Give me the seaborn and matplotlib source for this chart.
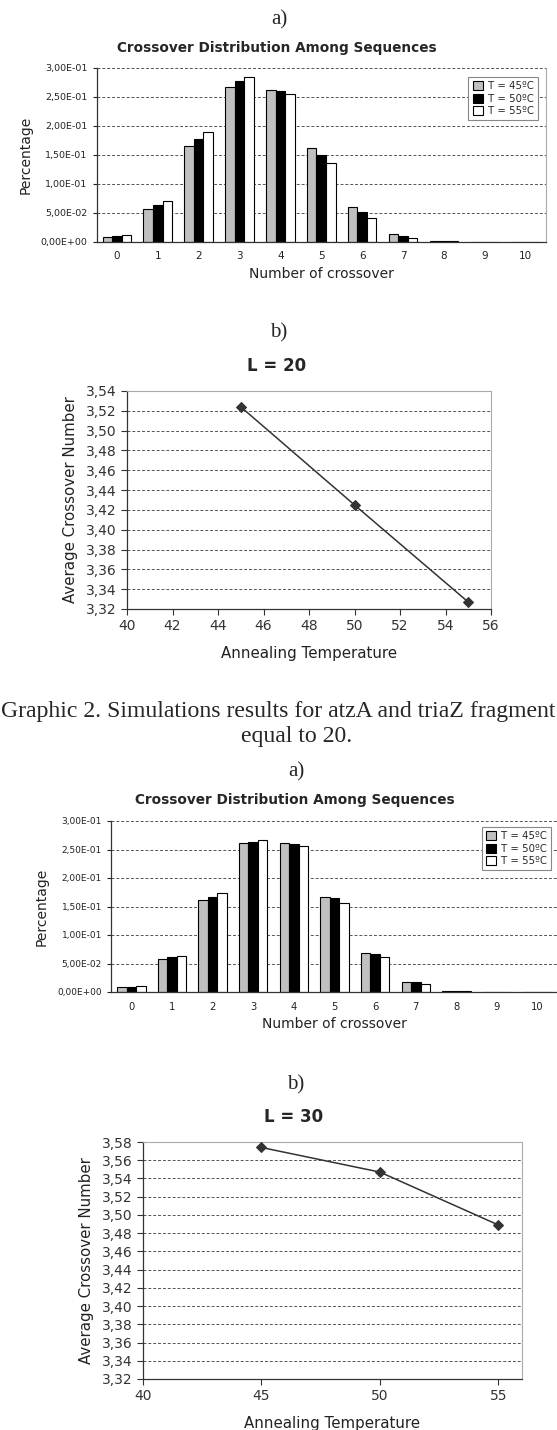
import numpy as np
import pandas as pd
import matplotlib
matplotlib.use("Agg")
import matplotlib.pyplot as plt
from matplotlib.ticker import FuncFormatter, FixedLocator
import seaborn as sns

# ---------------- data ----------------
crossovers = ["0", "1", "2", "3", "4", "5", "6", "7", "8", "9", "10"]
temp_labels = ["T = 45ºC", "T = 50ºC", "T = 55ºC"]

l20_t45 = [0.0081, 0.0569, 0.1654, 0.2669, 0.2617, 0.1619, 0.0603, 0.0122, 0.0010, 0.0, 0.0]
l20_t50 = [0.0093, 0.0632, 0.1776, 0.2768, 0.2600, 0.1491, 0.0516, 0.0099, 0.0008, 0.0, 0.0]
l20_t55 = [0.0104, 0.0696, 0.1886, 0.2849, 0.2553, 0.1364, 0.0412, 0.0064, 0.0005, 0.0, 0.0]

l30_t45 = [0.0095, 0.0583, 0.1619, 0.2610, 0.2610, 0.1666, 0.0682, 0.0169, 0.0012, 0.0, 0.0]
l30_t50 = [0.0095, 0.0606, 0.1660, 0.2633, 0.2598, 0.1643, 0.0664, 0.0169, 0.0017, 0.0, 0.0]
l30_t55 = [0.0100, 0.0629, 0.1736, 0.2674, 0.2569, 0.1567, 0.0612, 0.0146, 0.0010, 0.0, 0.0]

anneal_temps = [45, 50, 55]
avg_l20 = [3.524, 3.425, 3.327]
avg_l30 = [3.574, 3.547, 3.489]

bar_yticks = [0.0, 0.05, 0.10, 0.15, 0.20, 0.25, 0.30]
l20_xticks = [40, 42, 44, 46, 48, 50, 52, 54, 56]
l20_yticks = [3.32, 3.34, 3.36, 3.38, 3.40, 3.42, 3.44, 3.46, 3.48, 3.50, 3.52, 3.54]
l30_xticks = [40, 45, 50, 55]
l30_yticks = [3.32, 3.34, 3.36, 3.38, 3.40, 3.42, 3.44, 3.46, 3.48, 3.50, 3.52, 3.54, 3.56, 3.58]

# ---------------- style ----------------
sns.set_theme(style="white")
plt.rcParams["font.family"] = ["DejaVu Sans"]

W, H = 557, 1430
fig = plt.figure(figsize=(W / 100, H / 100), dpi=100)


def rect(left, right, top, bottom):
    return [left / W, 1 - bottom / H, (right - left) / W, (bottom - top) / H]


def ftext(x, y, s, **kw):
    fig.text(x / W, 1 - y / H, s, ha="center", va="center", **kw)


SERIF = ["Liberation Serif", "DejaVu Serif"]
bar_palette = ["#c0c0c0", "#000000", "#ffffff"]
grid_kw = dict(color="#555555", linestyle=(0, (3, 2)), linewidth=0.7)


def bar_chart(ax, v45, v50, v55, legend_anchor, legend_loc, tick_fs):
    df = pd.DataFrame({
        "cat": crossovers * 3,
        "T": [temp_labels[0]] * 11 + [temp_labels[1]] * 11 + [temp_labels[2]] * 11,
        "val": list(v45) + list(v50) + list(v55),
    })
    sns.barplot(data=df, x="cat", y="val", hue="T", order=crossovers,
                hue_order=temp_labels, palette=bar_palette, edgecolor="black",
                linewidth=0.8, width=0.7, ax=ax, legend=True)
    ax.set_xlim(-0.5, 10.5)
    ax.set_ylim(0, 0.30)
    ax.yaxis.set_major_locator(FixedLocator(bar_yticks))
    ax.yaxis.set_major_formatter(FuncFormatter(lambda v, p: f"{v:.2E}".replace(".", ",")))
    ax.set_axisbelow(True)
    for yv in bar_yticks[1:]:
        ax.axhline(yv, zorder=0, **grid_kw)
    ax.set_xticks(range(11))
    ax.set_xticklabels(crossovers)
    ax.set_xticks(np.arange(-0.5, 11, 1.0), minor=True)
    ax.tick_params(axis="x", which="major", length=0, labelsize=tick_fs + 0.7, pad=7, colors="#222222")
    ax.tick_params(axis="x", which="minor", length=4, width=0.8, direction="out", color="#333333")
    ax.tick_params(axis="y", which="major", length=3, width=0.8, direction="out", labelsize=tick_fs,
                   colors="#222222", left=True)
    ax.set_xlabel("Number of crossover", fontsize=10, color="#222222", labelpad=4)
    ax.set_ylabel("Percentage", fontsize=10, color="#222222", labelpad=6)
    for s in ["left", "bottom"]:
        ax.spines[s].set_color("#333333")
        ax.spines[s].set_linewidth(0.9)
    ax.spines["top"].set_visible(False)
    ax.spines["right"].set_color("#aaaaaa")
    ax.spines["right"].set_linewidth(0.8)
    handles, labels = ax.get_legend_handles_labels()
    leg = ax.legend(handles, labels, loc=legend_loc, bbox_to_anchor=legend_anchor,
                    fontsize=7.3, frameon=True, fancybox=False, handlelength=1.0,
                    handleheight=1.0, handletextpad=0.5, borderpad=0.4,
                    labelspacing=0.25, edgecolor="#888888", framealpha=1)
    leg.get_frame().set_linewidth(0.8)


def line_chart(ax, xs, ys, xticks, yticks, xlim, ylim):
    ax.set_xlim(*xlim)
    ax.set_ylim(*ylim)
    for yv in yticks[1:]:
        ax.axhline(yv, zorder=0, **grid_kw)
    sns.lineplot(x=xs, y=ys, ax=ax, color="#333333", linewidth=1.1,
                 marker="D", markersize=5, markeredgecolor="#333333", zorder=3)
    ax.set_xticks(xticks)
    ax.set_yticks(yticks)
    ax.set_xlim(*xlim)
    ax.set_ylim(*ylim)
    ax.yaxis.set_major_formatter(FuncFormatter(lambda v, p: f"{v:.2f}".replace(".", ",")))
    ax.tick_params(axis="both", length=4, width=0.8, direction="out", labelsize=10,
                   colors="#333333", left=True, bottom=True)
    ax.set_xlabel("Annealing Temperature", fontsize=10.8, color="#222222", labelpad=9)
    ax.set_ylabel("Average Crossover Number", fontsize=10.8, color="#222222", labelpad=6)
    for s in ["left", "bottom"]:
        ax.spines[s].set_color("#333333")
        ax.spines[s].set_linewidth(0.9)
    for s in ["top", "right"]:
        ax.spines[s].set_color("#aaaaaa")
        ax.spines[s].set_linewidth(0.8)


# ---------- Chart 1 : bar, L = 20 ----------
ftext(279, 20, "a)", fontsize=15, family=SERIF)
ftext(277, 48, "Crossover Distribution Among Sequences", fontsize=9.8, fontweight="bold")
ax1 = fig.add_axes(rect(96.5, 546, 68, 241.5))
bar_chart(ax1, l20_t45, l20_t50, l20_t55, (0.993, 0.977), "upper right", 6.8)

# ---------- Chart 2 : line, L = 20 ----------
ftext(279, 333, "b)", fontsize=15, family=SERIF)
ftext(277, 366, "L = 20", fontsize=12, fontweight="bold")
ax2 = fig.add_axes(rect(127, 491, 391, 609))
line_chart(ax2, anneal_temps, avg_l20, l20_xticks, l20_yticks, (40, 56), (3.32, 3.54))

# ---------- Caption ----------
ftext(278.5, 711, "Graphic 2. Simulations results for atzA and triaZ fragment", fontsize=17.1, family=SERIF)
ftext(297, 737, "equal to 20.", fontsize=17.1, family=SERIF)

# ---------- Chart 3 : bar, L = 30 ----------
ftext(296, 772, "a)", fontsize=15, family=SERIF)
ftext(295, 800, "Crossover Distribution Among Sequences", fontsize=9.8, fontweight="bold")
ax3 = fig.add_axes(rect(111, 558, 821, 992))
bar_chart(ax3, l30_t45, l30_t50, l30_t55, ((556 - 111) / 447, 0.995), "upper right", 6.5)

# ---------- Chart 4 : line, L = 30 ----------
ftext(296, 1085, "b)", fontsize=15, family=SERIF)
ftext(294, 1117, "L = 30", fontsize=12, fontweight="bold")
ax4 = fig.add_axes(rect(143, 522, 1142, 1379))
line_chart(ax4, anneal_temps, avg_l30, l30_xticks, l30_yticks, (40, 56), (3.32, 3.58))

fig.savefig("out.png", dpi=100)
